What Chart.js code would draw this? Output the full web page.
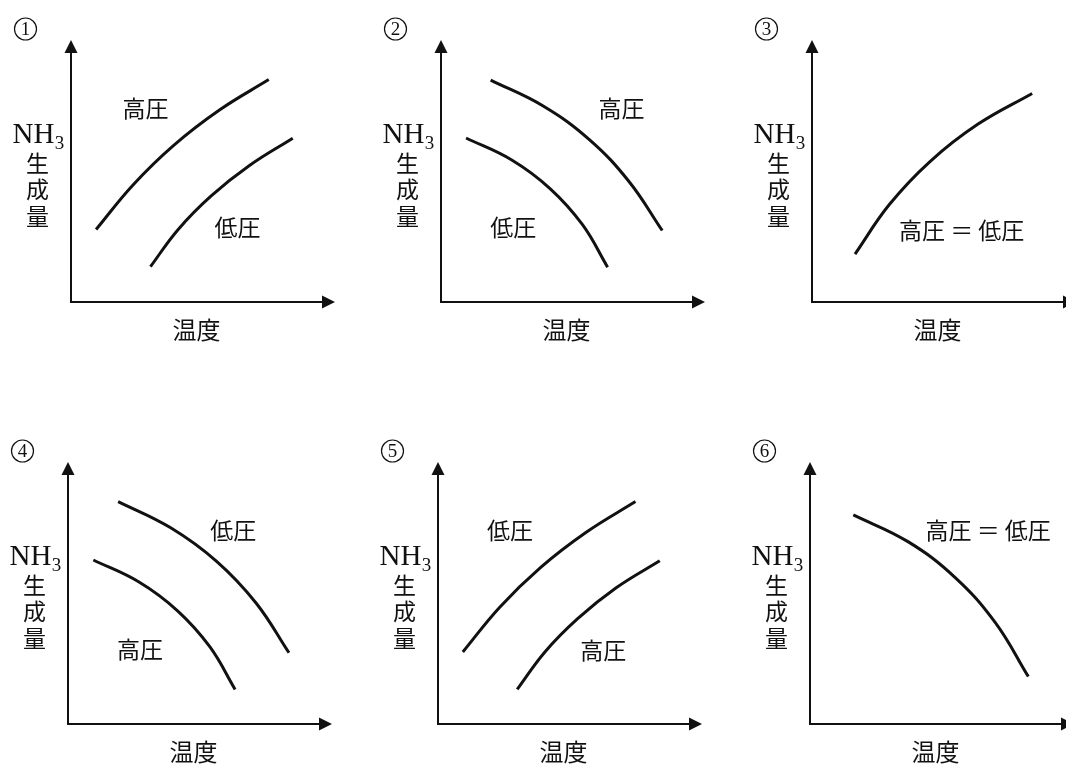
<!DOCTYPE html>
<html>
<head>
<meta charset="utf-8">
<script src="https://cdn.jsdelivr.net/npm/chart.js@4"></script>
<style>
  html, body { margin: 0; padding: 0; background: #fff; width: 1066px; height: 766px; overflow: hidden; }
  canvas { position: absolute; }
</style>
</head>
<body>
<script>
// --- data (axes run 0..100 in both directions, no units on the original) ---
const p1HighX = [9.5, 23.4, 38.9, 56.1, 74.9];
const p1HighY = [27.7, 44.6, 59.8, 73.2, 84.9];
const p1LowX = [30.1, 40.6, 53.1, 67.6, 84.0];
const p1LowY = [13.5, 27.7, 40.5, 52.1, 62.5];

const p2HighX = [18.8, 38.7, 56.3, 71.2, 83.8];
const p2HighY = [84.7, 74.8, 61.9, 46.0, 27.3];
const p2LowX = [9.5, 26.8, 41.4, 53.6, 63.1];
const p2LowY = [62.6, 54.2, 43.2, 29.5, 13.3];

const p3SameX = [16.3, 29.3, 44.8, 62.9, 83.4];
const p3SameY = [18.3, 37.2, 53.7, 67.9, 79.6];

const p4LowX = [19.0, 38.9, 56.4, 71.3, 83.7];
const p4LowY = [84.9, 74.9, 62.0, 46.1, 27.2];
const p4HighX = [9.6, 26.9, 41.5, 53.7, 63.3];
const p4HighY = [62.6, 54.2, 43.2, 29.5, 13.2];

const p5LowX = [9.4, 23.3, 38.8, 56.0, 74.8];
const p5LowY = [27.5, 44.5, 59.7, 73.1, 84.9];
const p5HighX = [30.0, 40.5, 53.0, 67.5, 84.0];
const p5HighY = [13.2, 27.5, 40.3, 52.0, 62.3];

const p6SameX = [16.4, 37.1, 55.0, 70.2, 82.7];
const p6SameY = [79.8, 69.6, 55.9, 38.7, 18.1];

// curve labels, anchored in data units
const p1Labels = ['高圧', '低圧'], p1LabelX = [28.2, 63.1], p1LabelY = [74.0, 28.6];
const p2Labels = ['高圧', '低圧'], p2LabelX = [68.4, 27.4], p2LabelY = [73.9, 28.6];
const p3Labels = ['高圧 ＝ 低圧'], p3LabelX = [56.7], p3LabelY = [27.5];
const p4Labels = ['低圧', '高圧'], p4LabelX = [62.6, 27.3], p4LabelY = [73.9, 28.6];
const p5Labels = ['低圧', '高圧'], p5LabelX = [27.3, 62.6], p5LabelY = [73.9, 28.0];
const p6Labels = ['高圧 ＝ 低圧'], p6LabelX = [67.5], p6LabelY = [73.9];

const panelNumbers = ['1', '2', '3', '4', '5', '6'];
const xAxisTitle = '温度';
const yAxisTitle = ['生', '成', '量'];

const INK = '#111';
const CJK = '"Noto Sans CJK JP", "Noto Sans CJK SC", sans-serif';
const SERIF = '"Liberation Serif", "DejaVu Serif", serif';

function pts(xs, ys) {
    return xs.map((x, i) => ({ x: x, y: ys[i] }));
}

// axes with arrow heads, panel number, axis titles and curve labels
const decorPlugin = {
    id: 'decor',
    afterDraw(chart, args, opts) {
        const ctx = chart.ctx;
        const a = chart.chartArea;
        const sx = chart.scales.x, sy = chart.scales.y;
        const L = a.left, T = a.top, R = a.right, B = a.bottom;
        ctx.save();
        ctx.strokeStyle = INK;
        ctx.fillStyle = INK;
        ctx.lineWidth = 2;

        // axes
        ctx.beginPath();
        ctx.moveTo(L, T + 10);
        ctx.lineTo(L, B);
        ctx.lineTo(R - 10, B);
        ctx.stroke();
        // arrow heads
        ctx.beginPath();
        ctx.moveTo(L, T);
        ctx.lineTo(L - 6.5, T + 13);
        ctx.lineTo(L + 6.5, T + 13);
        ctx.closePath();
        ctx.fill();
        ctx.beginPath();
        ctx.moveTo(R, B);
        ctx.lineTo(R - 13, B - 6.5);
        ctx.lineTo(R - 13, B + 6.5);
        ctx.closePath();
        ctx.fill();

        // circled panel number
        ctx.lineWidth = 1.2;
        ctx.beginPath();
        ctx.arc(L - 45.5, T - 11, 11, 0, Math.PI * 2);
        ctx.stroke();
        ctx.textAlign = 'center';
        ctx.textBaseline = 'middle';
        ctx.font = '19px ' + SERIF;
        ctx.fillText(opts.num, L - 45.5, T - 10);

        // y title: NH3 + vertical 生成量
        ctx.textBaseline = 'alphabetic';
        ctx.font = '29px ' + SERIF;
        ctx.fillText('NH', L - 37.5, T + 103);
        ctx.font = '19px ' + SERIF;
        ctx.fillText('3', L - 11.5, T + 109);
        ctx.textBaseline = 'middle';
        ctx.font = '23px ' + CJK;
        yAxisTitle.forEach((ch, i) => ctx.fillText(ch, L - 33.5, T + 123 + i * 26.5));

        // x title
        ctx.font = '24px ' + CJK;
        ctx.fillText(xAxisTitle, L + 125.5, T + 290);

        // curve labels
        ctx.font = '23px ' + CJK;
        opts.labels.forEach((txt, i) => {
            ctx.fillText(txt, sx.getPixelForValue(opts.lx[i]), sy.getPixelForValue(opts.ly[i]));
        });
        ctx.restore();
    }
};

// where each panel's axis corner (left edge / arrow top) sits on the page
const panelAxisLeft = [70.5, 441, 812, 68, 438, 810];
const panelAxisTop = [40, 40, 40, 462, 462, 462];

const panels = [
    { curves: [pts(p1HighX, p1HighY), pts(p1LowX, p1LowY)], labels: p1Labels, lx: p1LabelX, ly: p1LabelY },
    { curves: [pts(p2HighX, p2HighY), pts(p2LowX, p2LowY)], labels: p2Labels, lx: p2LabelX, ly: p2LabelY },
    { curves: [pts(p3SameX, p3SameY)], labels: p3Labels, lx: p3LabelX, ly: p3LabelY },
    { curves: [pts(p4LowX, p4LowY), pts(p4HighX, p4HighY)], labels: p4Labels, lx: p4LabelX, ly: p4LabelY },
    { curves: [pts(p5LowX, p5LowY), pts(p5HighX, p5HighY)], labels: p5Labels, lx: p5LabelX, ly: p5LabelY },
    { curves: [pts(p6SameX, p6SameY)], labels: p6Labels, lx: p6LabelX, ly: p6LabelY }
];

panels.forEach((p, i) => {
    const canvas = document.createElement('canvas');
    canvas.width = 370;
    canvas.height = 421;
    canvas.style.left = (panelAxisLeft[i] - 70) + 'px';
    canvas.style.top = (panelAxisTop[i] - 40) + 'px';
    document.body.appendChild(canvas);

    new Chart(canvas, {
        type: 'line',
        data: {
            datasets: p.curves.map(c => ({
                data: c,
                borderColor: INK,
                borderWidth: 3,
                pointRadius: 0,
                fill: false,
                tension: 0.4
            }))
        },
        options: {
            responsive: false,
            animation: false,
            events: [],
            layout: { padding: { left: 70, top: 40, right: 36, bottom: 119 } },
            plugins: {
                legend: { display: false },
                tooltip: { enabled: false },
                decor: { num: panelNumbers[i], labels: p.labels, lx: p.lx, ly: p.ly }
            },
            scales: {
                x: { type: 'linear', min: 0, max: 100, display: false },
                y: { type: 'linear', min: 0, max: 100, display: false }
            }
        },
        plugins: [decorPlugin]
    });
});
</script>
</body>
</html>
